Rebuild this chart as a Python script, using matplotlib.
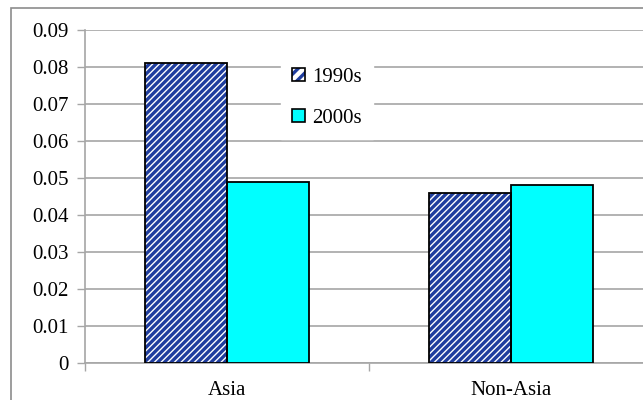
import numpy as np
import matplotlib
matplotlib.use("Agg")
import matplotlib.pyplot as plt
from matplotlib.patches import Patch, Rectangle
from matplotlib.legend_handler import HandlerTuple

# ==================================
# Dados
# ==================================

categorias = ["Asia", "Non-Asia"]
serie_1990s = [0.081, 0.046]
serie_2000s = [0.049, 0.048]
rotulos_series = ["1990s", "2000s"]
yticks = [0, 0.01, 0.02, 0.03, 0.04, 0.05, 0.06, 0.07, 0.08, 0.09]

azul = "#1f3d9e"
ciano = "#00ffff"
cinza = "#a6a6a6"

plt.rcParams["font.family"] = ["Liberation Serif", "DejaVu Serif"]
plt.rcParams["hatch.linewidth"] = 2.4
plt.rcParams["hatch.color"] = azul

# ==================================
# Figura
# ==================================

fig = plt.figure(figsize=(6.43, 4.0), dpi=100)

ax = fig.add_axes([85 / 643, 1 - 363 / 400, 568 / 643, 333 / 400])

x = np.arange(len(categorias))
largura = 0.289

# 1990s: fundo branco com listras + contorno preto
ax.bar(x - largura / 2, serie_1990s, largura,
       color="white", edgecolor=azul, hatch="/////", linewidth=0, zorder=3)
ax.bar(x - largura / 2, serie_1990s, largura,
       fill=False, edgecolor="black", linewidth=1.3, zorder=4)

ax.bar(x + largura / 2, serie_2000s, largura,
       color=ciano, edgecolor="black", linewidth=1.3, zorder=3)

ax.set_xlim(-0.5, len(categorias) - 0.5)
ax.set_ylim(0, 0.09)

ax.set_yticks(yticks)
ax.set_yticklabels(["0" if v == 0 else f"{v:.2f}" for v in yticks])

ax.set_xticks([-0.5, 0.5, 1.5])
ax.set_xticklabels([])
ax.set_xticks(x, minor=True)
ax.set_xticklabels(categorias, minor=True)

ax.tick_params(axis="y", which="major", length=6, width=1, color=cinza,
               labelsize=15, pad=6)
ax.tick_params(axis="x", which="major", length=6, width=1, color=cinza)
ax.tick_params(axis="x", which="minor", length=0, labelsize=15, pad=13)

ax.yaxis.grid(True, color=cinza, linewidth=1.2, zorder=0)
ax.set_axisbelow(True)

for lado in ["top", "right"]:
    ax.spines[lado].set_visible(False)
for lado in ["left", "bottom"]:
    ax.spines[lado].set_color(cinza)
    ax.spines[lado].set_linewidth(1.2)

# ==================================
# Legenda
# ==================================

h1 = (Patch(facecolor="white", edgecolor=azul, hatch="///", linewidth=0),
      Patch(fill=False, edgecolor="black", linewidth=1.2))
h2 = Patch(facecolor=ciano, edgecolor="black", linewidth=1.2)

leg = ax.legend([h1, h2], rotulos_series,
                handler_map={tuple: HandlerTuple(ndivide=1, pad=0)},
                loc="upper left", bbox_to_anchor=(0.345, 0.92),
                fontsize=15, frameon=True, fancybox=False,
                framealpha=1, borderpad=0.55, labelspacing=1.05,
                handlelength=0.6, handleheight=0.6, handletextpad=0.35,
                borderaxespad=0)
leg.get_frame().set_edgecolor("white")
leg.set_zorder(5)

# ==================================
# Borda externa
# ==================================

fig.patches.append(Rectangle((11 / 643, -0.1), 2, 1.1 - 8 / 400,
                             transform=fig.transFigure, fill=False,
                             edgecolor="#8c8c8c", linewidth=1.2))

fig.savefig("out.png", dpi=100)
